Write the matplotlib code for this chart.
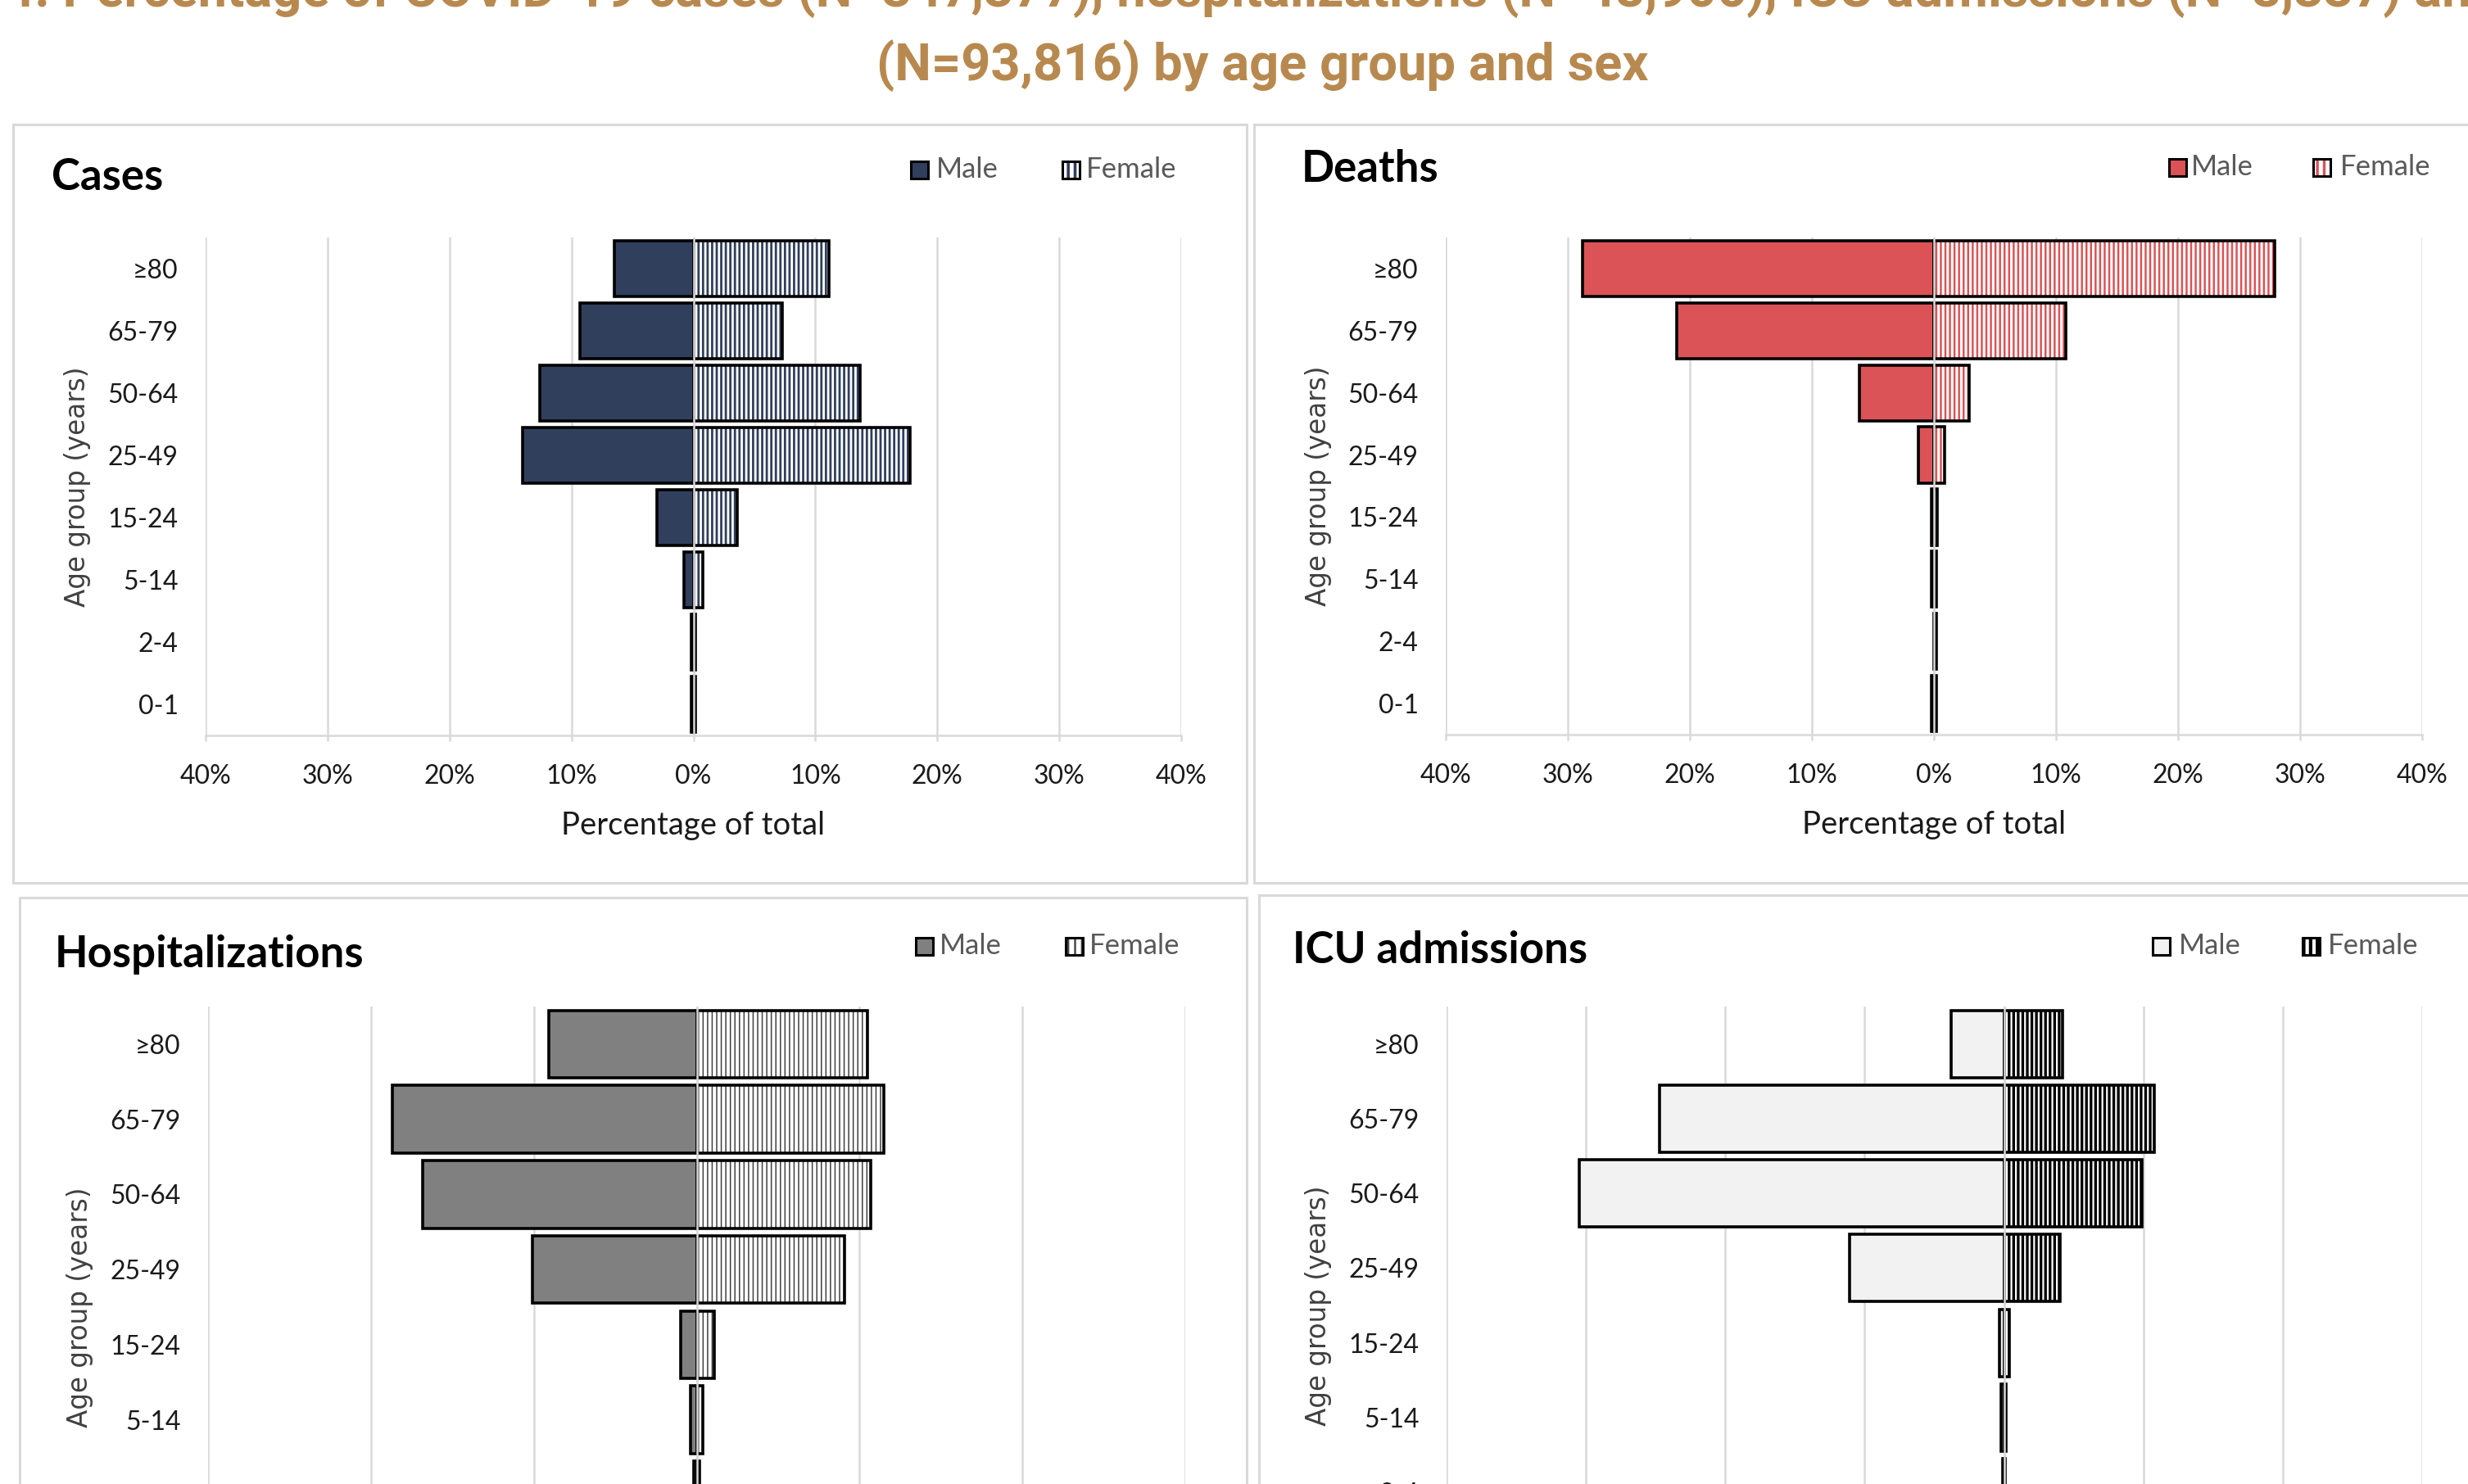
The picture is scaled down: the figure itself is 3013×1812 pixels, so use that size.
import matplotlib
matplotlib.use("Agg")
import matplotlib.pyplot as plt
from matplotlib.patches import Rectangle
from matplotlib.ticker import FuncFormatter

# ---------------------------------------------------------------- data
age_groups = ["0-1", "2-4", "5-14", "15-24", "25-49", "50-64", "65-79", "≥80"]

cases_male = [0.2, 0.2, 0.8, 3.0, 14.0, 12.6, 9.3, 6.5]
cases_female = [0.2, 0.2, 0.8, 3.6, 17.8, 13.7, 7.3, 11.1]

deaths_male = [0.2, 0.0, 0.2, 0.2, 1.3, 6.1, 21.1, 28.8]
deaths_female = [0.2, 0.2, 0.2, 0.3, 0.9, 2.9, 10.8, 27.9]

hosp_male = [0.2, 0.2, 0.4, 1.0, 10.1, 16.8, 18.7, 9.1]
hosp_female = [0.2, 0.2, 0.4, 1.1, 9.1, 10.7, 11.5, 10.5]

icu_male = [0.1, 0.1, 0.2, 0.3, 11.1, 30.5, 24.7, 3.8]
icu_female = [0.1, 0.1, 0.15, 0.35, 4.0, 9.9, 10.8, 4.2]

panel_titles = ["Cases", "Deaths", "Hospitalizations", "ICU admissions"]
legend_labels = ["Male", "Female"]
x_label = "Percentage of total"
y_label = "Age group (years)"
title_line1 = ("4. Percentage of COVID-19 cases (N=347,377), hospitalizations "
               "(N=48,906), ICU admissions (N=8,337) and deaths")
title_line2 = "(N=93,816) by age group and sex"

# ---------------------------------------------------------------- canvas
W, H = 3013, 1812
DPI = 100
fig = plt.figure(figsize=(W / DPI, H / DPI), dpi=DPI)
fig.patch.set_facecolor("white")

FONT = ["Lato", "DejaVu Sans"]
TITLE_COLOR = "#B8894F"
GRID = "#d9d9d9"
plt.rcParams["hatch.linewidth"] = 2.0


def frac_rect(x0, y0, x1, y1):
    """Pixel box (top-left origin) -> figure-fraction rectangle."""
    return [x0 / W, 1 - y1 / H, (x1 - x0) / W, (y1 - y0) / H]


def fx(x):
    return x / W


def fy(y):
    return 1 - y / H


# figure title (two lines, the first one running off the top)
fig.text(fx(6), fy(8), title_line1, ha="left", va="baseline",
         fontsize=45.5, fontweight="bold", color=TITLE_COLOR,
         family=["Roboto", "DejaVu Sans"])
fig.text(fx(1541), fy(98), title_line2, ha="center", va="baseline",
         fontsize=45.5, fontweight="bold", color=TITLE_COLOR,
         family=["Roboto", "DejaVu Sans"])

# chart frames
frames = [(16, 152, 1522, 1078), (1531, 152, 3060, 1078),
          (24, 1096, 1522, 1900), (1537, 1093, 3060, 1900)]
for (x0, y0, x1, y1) in frames:
    fig.add_artist(Rectangle((fx(x0), fy(y1)), (x1 - x0) / W, (y1 - y0) / H,
                             transform=fig.transFigure, facecolor="white",
                             edgecolor=GRID, linewidth=2.2, zorder=-5))

panels = [
    dict(title=panel_titles[0], male=cases_male, female=cases_female,
         mcolor="#303F5C", hcolor="#303F5C", hlw=2.0, lim=(-40, 40),
         box=(251, 290, 1442, 898), title_xy=(63, 217),
         leg=(1122, 207, 1143, 1307, 1326)),
    dict(title=panel_titles[1], male=deaths_male, female=deaths_female,
         mcolor="#DB5356", hcolor="#DB5356", hlw=1.8, lim=(-40, 40),
         box=(1765, 290, 2957, 897), title_xy=(1589, 206),
         leg=(2658, 204, 2675, 2834, 2857)),
    dict(title=panel_titles[2], male=hosp_male, female=hosp_female,
         mcolor="#808080", hcolor="#404040", hlw=1.1, lim=(-30, 30),
         box=(254, 1229, 1447, 1963), title_xy=(67, 1165),
         leg=(1128, 1155, 1147, 1311, 1330)),
    dict(title=panel_titles[3], male=icu_male, female=icu_female,
         mcolor="#F2F2F2", hcolor="#000000", hlw=2.4, lim=(-40, 30),
         box=(1766, 1229, 2957, 1959), title_xy=(1578, 1161),
         leg=(2638, 1155, 2660, 2821, 2842)),
]

pct = FuncFormatter(lambda v, _: f"{abs(v):.0f}%")
BAR_H = 0.9
EDGE = 2.6
HATCH = "|||"
ypos = list(range(len(age_groups)))


def set_hatch_lw(container, lw):
    for p in container:
        if hasattr(p, "set_hatch_linewidth"):
            p.set_hatch_linewidth(lw)


for pnl in panels:
    x0, y0, x1, y1 = pnl["box"]
    ax = fig.add_axes(frac_rect(x0, y0, x1, y1))
    ax.set_facecolor("none")

    male_lw = [EDGE if v > 0 else 0 for v in pnl["male"]]
    female_lw = [EDGE if v > 0 else 0 for v in pnl["female"]]

    # male bars extend to the left
    ax.barh(ypos, [-v for v in pnl["male"]], height=BAR_H,
            color=pnl["mcolor"], edgecolor="black", linewidth=male_lw,
            zorder=3)
    # female bars: striped fill, then black outline
    hatched = ax.barh(ypos, pnl["female"], height=BAR_H, color="white",
                      edgecolor=pnl["hcolor"], linewidth=0, hatch=HATCH,
                      zorder=3)
    set_hatch_lw(hatched, pnl["hlw"])
    ax.barh(ypos, pnl["female"], height=BAR_H, fill=False,
            edgecolor="black", linewidth=female_lw, zorder=3.5)

    ax.axvline(0, color=GRID, linewidth=1.8, zorder=4)

    lo, hi = pnl["lim"]
    ax.set_xlim(lo, hi)
    ax.set_ylim(-0.5, len(age_groups) - 0.5)
    ax.set_xticks(range(lo, hi + 1, 10))
    ax.xaxis.set_major_formatter(pct)
    ax.set_yticks(ypos)
    ax.set_yticklabels(age_groups)

    ax.grid(axis="x", color=GRID, linewidth=1.8, zorder=0)
    ax.grid(axis="y", visible=False)
    ax.set_axisbelow(True)
    for side in ("top", "right", "left"):
        ax.spines[side].set_visible(False)
    ax.spines["bottom"].set_color(GRID)
    ax.spines["bottom"].set_linewidth(1.8)

    ax.tick_params(axis="x", length=5, width=1.8, color=GRID, pad=20,
                   labelsize=23, labelcolor="#1a1a1a")
    ax.tick_params(axis="y", length=0, pad=24, labelsize=23,
                   labelcolor="#1a1a1a")
    for lab in ax.get_xticklabels() + ax.get_yticklabels():
        lab.set_family(FONT)

    w = x1 - x0
    h = y1 - y0
    ax.set_xlabel(x_label, fontsize=27.5, color="#1a1a1a", family=FONT)
    ax.xaxis.label.set_va("center")
    ax.xaxis.set_label_coords(0.5, -(1008 - 898) / h)
    ax.set_ylabel(y_label, fontsize=23.5, color="#404040",
                  family=["DejaVu Sans"])
    ax.yaxis.label.set_va("center")
    ax.yaxis.set_label_coords(-156 / w, 0.5)

    # panel heading
    tx, ty = pnl["title_xy"]
    fig.text(fx(tx), fy(ty), pnl["title"], ha="left", va="center",
             fontsize=38, fontweight="bold", color="black", family=FONT)

    # legend keys
    mx, ly, mtx, fxk, ftx = pnl["leg"]
    s = 21
    fig.add_artist(Rectangle((fx(mx - s / 2), fy(ly + s / 2)), s / W, s / H,
                             transform=fig.transFigure,
                             facecolor=pnl["mcolor"], edgecolor="black",
                             linewidth=2.2, zorder=5))
    key_h = Rectangle((fx(fxk - s / 2), fy(ly + s / 2)), s / W, s / H,
                      transform=fig.transFigure, facecolor="white",
                      edgecolor=pnl["hcolor"], linewidth=0, hatch="||",
                      zorder=5)
    if hasattr(key_h, "set_hatch_linewidth"):
        key_h.set_hatch_linewidth(pnl["hlw"] + 0.6)
    fig.add_artist(key_h)
    fig.add_artist(Rectangle((fx(fxk - s / 2), fy(ly + s / 2)), s / W, s / H,
                             transform=fig.transFigure, fill=False,
                             edgecolor="black", linewidth=2.2, zorder=6))
    fig.text(fx(mtx), fy(ly), legend_labels[0], ha="left", va="center",
             fontsize=25, color="#595959", family=FONT)
    fig.text(fx(ftx), fy(ly), legend_labels[1], ha="left", va="center",
             fontsize=25, color="#595959", family=FONT)

fig.savefig("out.png", dpi=DPI, facecolor="white")
